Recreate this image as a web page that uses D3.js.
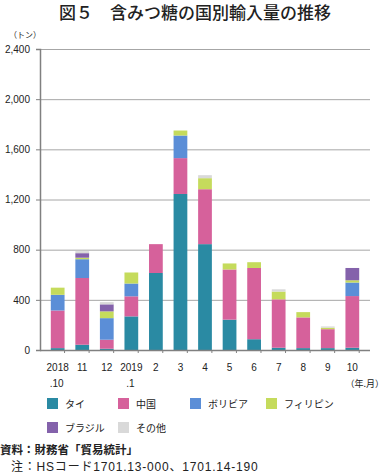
<!DOCTYPE html>
<html>
<head>
<meta charset="utf-8">
<script src="https://cdn.jsdelivr.net/npm/d3@7"></script>
<style>
  body { margin: 0; background: #fff; }
  svg { display: block; font-family: "Liberation Sans", "Noto Sans CJK JP", sans-serif; }
</style>
</head>
<body>
<div id="chart"></div>
<script>
// months (two-line labels)
const months = ["2018.10", "11", "12", "2019.1", "2", "3", "4", "5", "6", "7", "8", "9", "10"];
const labelTop = ["2018", "11", "12", "2019", "2", "3", "4", "5", "6", "7", "8", "9", "10"];
const labelBottom = [".10", "", "", ".1", "", "", "", "", "", "", "", "", ""];

// tonnes
const thai        = [15, 42, 10, 268, 614, 1244, 844, 242, 86, 18, 15, 15, 18];
const china       = [300, 532, 72, 160, 230, 286, 438, 400, 568, 386, 245, 151, 412];
const bolivia     = [125, 150, 172, 102, 0, 180, 0, 0, 0, 0, 0, 0, 108];
const philippines = [57, 12, 54, 88, 0, 40, 88, 48, 46, 62, 42, 12, 18];
const brazil      = [0, 36, 56, 0, 0, 0, 0, 0, 0, 0, 0, 0, 98];
const others      = [0, 16, 18, 0, 0, 0, 24, 0, 0, 18, 0, 10, 0];

const seriesNames = ["タイ", "中国", "ボリビア", "フィリピン", "ブラジル", "その他"];
const colors = ["#2a8aa3", "#d6619b", "#5b8ed7", "#c5db5c", "#8462ab", "#d9d9d9"];
const yTicks = [0, 400, 800, 1200, 1600, 2000, 2400];

const W = 385, H = 475;
const plot = {left: 40, right: 370, top: 49, bottom: 350};

const svg = d3.select("#chart").append("svg")
  .attr("width", W).attr("height", H);

// title
svg.append("text")
  .attr("x", 195).attr("y", 19)
  .attr("text-anchor", "middle")
  .attr("font-family", "Noto Sans CJK JP")
  .attr("font-size", 17).attr("font-weight", 500)
  .attr("fill", "#222")
  .text("図５　含みつ糖の国別輸入量の推移");

const table = months.map((m, i) => ({
  month: m, s0: thai[i], s1: china[i], s2: bolivia[i], s3: philippines[i], s4: brazil[i], s5: others[i]
}));
const keys = ["s0", "s1", "s2", "s3", "s4", "s5"];
const stacked = d3.stack().keys(keys)(table);

const x = d3.scaleBand().domain(months).range([plot.left, plot.right]).padding(0.44);
const y = d3.scaleLinear().domain([0, 2400]).range([plot.bottom, plot.top]);

// gridlines
svg.append("g")
  .selectAll("line")
  .data(yTicks.filter(d => d > 0))
  .join("line")
  .attr("x1", plot.left).attr("x2", plot.right)
  .attr("y1", d => y(d) + 0.5).attr("y2", d => y(d) + 0.5)
  .attr("stroke", "#a6a6a6").attr("stroke-width", 1);

// bars
svg.append("g")
  .selectAll("g")
  .data(stacked)
  .join("g")
  .attr("fill", (d, i) => colors[i])
  .selectAll("rect")
  .data(d => d)
  .join("rect")
  .attr("x", d => x(d.data.month))
  .attr("width", x.bandwidth())
  .attr("y", d => y(d[1]))
  .attr("height", d => y(d[0]) - y(d[1]));

// y axis
const yAxis = svg.append("g")
  .attr("transform", `translate(${plot.left},0)`)
  .call(d3.axisLeft(y).tickValues(yTicks).tickSize(4).tickPadding(6).tickFormat(d3.format(",")));
yAxis.select(".domain").attr("stroke", "#808080").attr("stroke-width", 1.5);
yAxis.selectAll(".tick line").attr("stroke", "#808080");
yAxis.selectAll("text").attr("font-size", 10).attr("fill", "#222");

// x axis
const xAxis = svg.append("g")
  .attr("transform", `translate(0,${plot.bottom})`);
xAxis.append("line")
  .attr("x1", plot.left).attr("x2", plot.right)
  .attr("y1", 0.5).attr("y2", 0.5)
  .attr("stroke", "#808080").attr("stroke-width", 1.5);
const step = x.step();
xAxis.selectAll(".xt")
  .data(months)
  .join("line")
  .attr("class", "xt")
  .attr("x1", d => x(d) - x.paddingOuter() * step + step)
  .attr("x2", d => x(d) - x.paddingOuter() * step + step)
  .attr("y1", 0).attr("y2", 3)
  .attr("stroke", "#808080");
xAxis.selectAll(".l1")
  .data(months)
  .join("text")
  .attr("class", "l1")
  .attr("x", d => x(d) + x.bandwidth() / 2)
  .attr("y", 21)
  .attr("text-anchor", "middle")
  .attr("font-size", 10).attr("fill", "#222")
  .text((d, i) => labelTop[i]);
xAxis.selectAll(".l2")
  .data(months)
  .join("text")
  .attr("class", "l2")
  .attr("x", d => x(d) + x.bandwidth() / 2 - 1)
  .attr("y", 37)
  .attr("text-anchor", "middle")
  .attr("font-size", 10).attr("fill", "#222")
  .text((d, i) => labelBottom[i]);

// units
svg.append("text")
  .attr("x", 9).attr("y", 38)
  .attr("font-family", "Noto Sans CJK JP")
  .attr("font-size", 8).attr("fill", "#222")
  .text("（トン）");
svg.append("text")
  .attr("x", 384).attr("y", 387)
  .attr("text-anchor", "end")
  .attr("font-family", "Noto Sans CJK JP")
  .attr("font-size", 9).attr("fill", "#222")
  .text("（年.月）");

// legend
const legendPos = [[47, 398], [118, 398], [190, 398], [266, 398], [47, 422], [118, 422]];
const legend = svg.append("g")
  .selectAll("g")
  .data(seriesNames)
  .join("g")
  .attr("transform", (d, i) => `translate(${legendPos[i][0]},${legendPos[i][1]})`);
legend.append("rect")
  .attr("width", 11).attr("height", 11)
  .attr("fill", (d, i) => colors[i]);
legend.append("text")
  .attr("x", 18).attr("y", 10)
  .attr("font-family", "Noto Sans CJK JP")
  .attr("font-size", 10).attr("fill", "#222")
  .text(d => d);

// source / note
svg.append("text")
  .attr("x", 0).attr("y", 454)
  .attr("font-family", "Noto Sans CJK JP")
  .attr("font-size", 11.5).attr("font-weight", 700).attr("fill", "#222")
  .text("資料：財務省「貿易統計」");
svg.append("text")
  .attr("x", 11).attr("y", 471)
  .attr("font-family", "Liberation Sans, Noto Sans CJK JP")
  .attr("font-size", 12).attr("letter-spacing", 0.8).attr("fill", "#222")
  .text("注：HSコード1701.13-000、1701.14-190");
</script>
</body>
</html>
